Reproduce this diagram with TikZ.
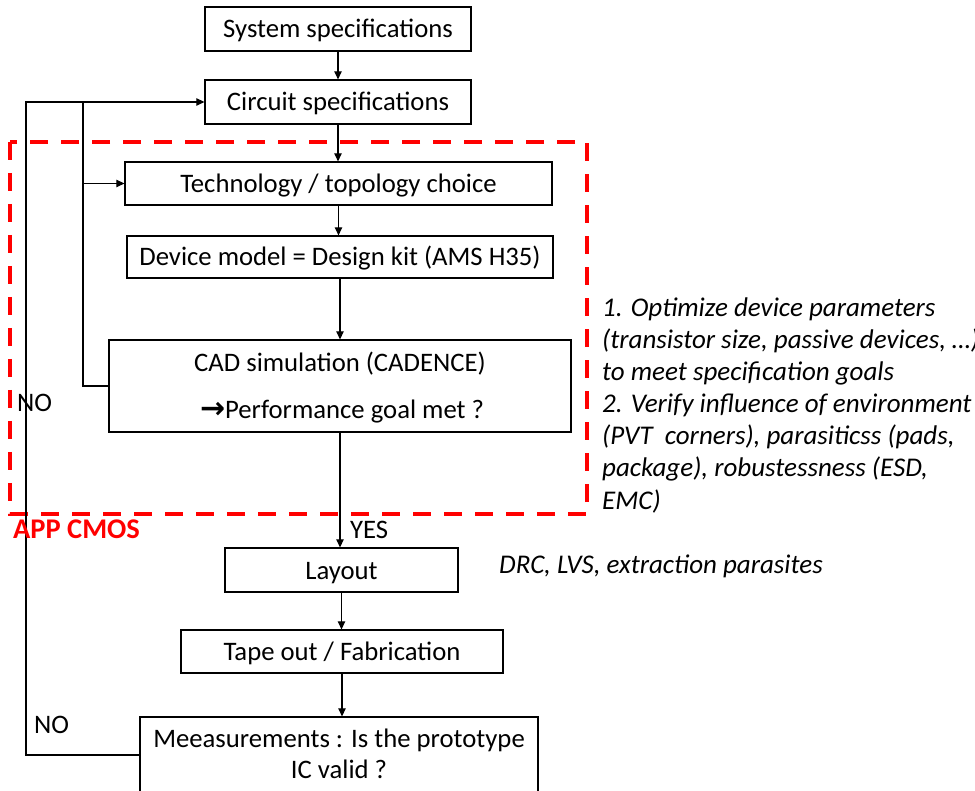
\documentclass[tikz,border=0pt]{standalone}
\usepackage{fontspec}
\setmainfont{Carlito}
\newfontfamily\dejavu{DejaVu Sans}
\usetikzlibrary{arrows.meta}
\newcommand\mysize{\fontsize{26.7}{32}\selectfont}
\newcommand\sidesize{\fontsize{27}{32}\selectfont}
\begin{document}
\begin{tikzpicture}[x=1pt,y=-1pt,
  box/.style={draw, line width=1.3pt, inner sep=0pt, text height=18pt, text depth=0pt, font=\mysize},
  txt/.style={inner sep=0pt, font=\mysize},
  side/.style={inner sep=0pt, font=\sidesize\itshape},
  conn/.style={line width=1.2pt},
  arr/.style={line width=1.2pt, -{Triangle[length=8pt,width=7.5pt]}},
  zone/.style={draw=red, line width=4pt, dash pattern=on 18pt off 13pt}]
\useasboundingbox (0,0) rectangle (975,791);
\clip (0,0) rectangle (975,791);
% red dashed zone
\draw[zone] (10,142) rectangle (587,514);
% boxes
\node[box, minimum width=266pt, minimum height=44pt] (sys) at (338,29) {System specifications};
\node[box, minimum width=266pt, minimum height=44pt] (circ) at (338,102) {Circuit specifications};
\node[box, minimum width=427pt, minimum height=43pt] (tech) at (338.5,183.5) {Technology / topology choice};
\node[box, minimum width=426pt, minimum height=42pt] (dev) at (340,257) {Device model = Design kit (AMS H35)};
\node[box, minimum width=462pt, minimum height=92pt] (cad) at (340,386) {};
\node[txt, anchor=base] (cad1) at (340,372) {CAD simulation (CADENCE)};
\node[txt, anchor=base] (cad2) at (342,419) {{\dejavu\bfseries\fontsize{30}{32}\selectfont →}Performance goal met ?};
\node[box, minimum width=233pt, minimum height=44pt] (lay) at (341.5,570) {Layout};
\node[box, minimum width=322pt, minimum height=43pt] (tape) at (342,651.5) {Tape out / Fabrication};
\node[box, minimum width=398pt, minimum height=76pt] (meas) at (339,755) {};
\node[txt, anchor=base] (meas1) at (339,747) {Meeasurements : Is the prototype};
\node[txt, anchor=base] (meas2) at (339,778) {IC valid ?};
% main flow
\draw[arr] (sys.south) -- (sys.south |- circ.north);
\draw[arr] (circ.south) -- (circ.south |- tech.north);
\draw[arr] (tech.south) -- (tech.south |- dev.north);
\draw[arr] (dev.south) -- (dev.south |- cad.north);
\draw[arr] (cad.south) -- (cad.south |- lay.north);
\draw[arr] (lay.south) -- (lay.south |- tape.north);
\draw[arr] (tape.south) -- (tape.south |- meas.north);
% feedback loops
\coordinate (lo) at (26,755);
\coordinate (lt) at (26,102);
\coordinate (ib) at (83,386);
\coordinate (it) at (83,102);
\coordinate (im) at (83,183.5);
\draw[arr] (meas.west) -- (lo) -- (lt) -- (circ.west);
\draw[conn] (cad.west) -- (ib) -- (it);
\draw[arr] (im) -- (tech.west);
% labels
\node[txt, anchor=base west] (no1) at (17,412) {NO};
\node[txt, anchor=base west] (no2) at (34,733) {NO};
\node[txt, anchor=base west] (yes) at (350,538) {YES};
\node[txt, anchor=base west, text=red, font=\fontsize{28.5}{32}\selectfont\bfseries] (app) at (13,538) {APP CMOS};
\node[side, anchor=base west] (drc) at (499,573) {DRC, LVS, extraction parasites};
\foreach \t [count=\i] in {{1. Optimize device parameters},{(transistor size, passive devices, …)},{to meet specification goals},{2. Verify influence of environment},{(PVT\ \ corners), parasiticss (pads,},{package), robustessness (ESD,},{EMC)}}
  \node[side, anchor=base west] (side\i) at (602,285+32*\i) {\t};
\end{tikzpicture}
\end{document}
